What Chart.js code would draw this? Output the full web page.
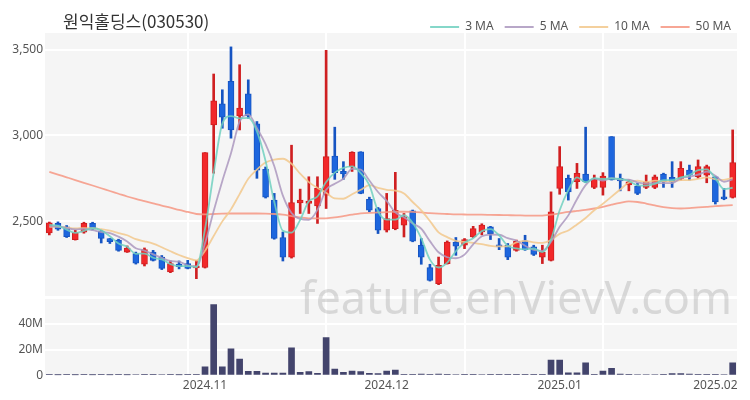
<!DOCTYPE html>
<html><head><meta charset="utf-8">
<script src="https://cdn.jsdelivr.net/npm/chart.js@4/dist/chart.umd.min.js"></script>
<style>
html,body{margin:0;padding:0;background:#fff;width:750px;height:400px;overflow:hidden;}
#title{position:absolute;left:63px;top:11px;font-family:"Noto Sans CJK KR","Noto Sans",sans-serif;font-size:17px;line-height:20px;color:#333;white-space:nowrap;}
#wrapTop{position:absolute;left:0;top:0;width:750px;height:296px;}
#wrapVol{position:absolute;left:0;top:296px;width:750px;height:100px;}
#wm{position:absolute;left:300px;top:274px;font-family:"Noto Sans",sans-serif;font-size:45px;line-height:45px;color:rgba(150,150,150,0.31);white-space:nowrap;pointer-events:none;}
</style></head>
<body>
<div id="wrapTop"><canvas id="price"></canvas></div>
<div id="wrapVol"><canvas id="vol"></canvas></div>
<div id="title">원익홀딩스(030530)</div>
<div id="wm">feature.enVievV.com</div>
<script>
const dates = [
 '2024.10.07','2024.10.08','2024.10.10','2024.10.11','2024.10.14','2024.10.15','2024.10.16','2024.10.17','2024.10.18','2024.10.21',
 '2024.10.22','2024.10.23','2024.10.24','2024.10.25','2024.10.28','2024.10.29','2024.10.30','2024.10.31','2024.11.01','2024.11.04',
 '2024.11.05','2024.11.06','2024.11.07','2024.11.08','2024.11.11','2024.11.12','2024.11.13','2024.11.14','2024.11.15','2024.11.18',
 '2024.11.19','2024.11.20','2024.11.21','2024.11.22','2024.11.25','2024.11.26','2024.11.27','2024.11.28','2024.11.29','2024.12.02',
 '2024.12.03','2024.12.04','2024.12.05','2024.12.06','2024.12.09','2024.12.10','2024.12.11','2024.12.12','2024.12.13','2024.12.16',
 '2024.12.17','2024.12.18','2024.12.19','2024.12.20','2024.12.23','2024.12.24','2024.12.26','2024.12.27','2024.12.30','2025.01.02',
 '2025.01.03','2025.01.06','2025.01.07','2025.01.08','2025.01.09','2025.01.10','2025.01.13','2025.01.14','2025.01.15','2025.01.16',
 '2025.01.17','2025.01.20','2025.01.21','2025.01.22','2025.01.23','2025.01.24','2025.01.31','2025.02.03','2025.02.04','2025.02.05'
];
const opens = [
 2432,2487,2467,2393,2436,2487,2443,2399,2390,2320,
 2311,2249,2320,2291,2204,2250,2253,2227,2230,3061,
 3184,3315,3114,3243,3067,2802,2623,2405,2291,2607,
 2603,2589,2652,2880,2790,2818,2905,2627,2574,2447,
 2457,2477,2560,2360,2229,2136,2253,2379,2360,2408,
 2437,2467,2360,2360,2330,2385,2350,2291,2272,2691,
 2750,2730,2775,2697,2697,2993,2750,2711,2705,2697,
 2697,2775,2755,2750,2798,2759,2769,2759,2642,2639
];
const highs = [
 2495,2496,2475,2447,2494,2494,2447,2399,2395,2356,
 2320,2344,2330,2300,2268,2268,2272,2272,2900,3358,
 3266,3516,3412,3324,3081,2816,2662,2437,2943,2687,
 2759,2759,3496,3048,2847,2905,2905,2640,2580,2662,
 2785,2545,2565,2399,2249,2291,2385,2405,2399,2470,
 2485,2470,2399,2370,2390,2418,2360,2360,2671,2935,
 2769,2837,3048,2769,2783,2993,2775,2740,2720,2769,
 2769,2780,2847,2847,2827,2857,2827,2760,2691,3032
];
const lows = [
 2420,2447,2405,2390,2430,2450,2373,2370,2325,2318,
 2250,2239,2268,2218,2200,2222,2222,2165,2227,2780,
 3042,2984,3032,3100,2750,2635,2395,2268,2285,2545,
 2545,2487,2574,2744,2744,2790,2660,2555,2428,2437,
 2450,2408,2380,2249,2151,2130,2250,2301,2340,2405,
 2420,2393,2334,2276,2325,2330,2300,2253,2268,2657,
 2623,2691,2725,2690,2652,2740,2677,2677,2655,2690,
 2690,2697,2697,2740,2740,2750,2724,2600,2625,2635
];
const closes = [
 2490,2453,2410,2434,2487,2455,2400,2380,2330,2344,
 2256,2334,2272,2225,2253,2235,2225,2240,2900,3202,
 3106,3032,3159,3114,2798,2640,2400,2291,2609,2623,
 2617,2691,2876,2783,2775,2902,2662,2565,2447,2516,
 2564,2525,2383,2291,2155,2243,2379,2354,2393,2457,
 2477,2428,2350,2291,2383,2334,2307,2320,2554,2818,
 2671,2779,2730,2744,2763,2740,2735,2730,2662,2730,
 2759,2730,2730,2808,2769,2818,2818,2613,2630,2842
];
const ma3 = [
 2478,2473,2451,2432,2444,2459,2447,2412,2370,2351,
 2310,2311,2287,2277,2250,2238,2238,2233,2455,2781,
 3069,3113,3099,3102,3024,2851,2613,2444,2433,2508,
 2616,2644,2728,2783,2811,2820,2780,2710,2558,2509,
 2509,2535,2491,2400,2276,2230,2259,2325,2375,2401,
 2442,2454,2418,2356,2341,2336,2341,2320,2394,2564,
 2681,2756,2727,2751,2746,2749,2746,2735,2709,2707,
 2717,2740,2740,2756,2769,2798,2802,2750,2687,2695
];
const ma5 = [
 2470,2469,2460,2452,2455,2448,2437,2431,2410,2382,
 2342,2329,2307,2286,2268,2264,2242,2236,2371,2560,
 2735,2896,3080,3123,3042,2949,2822,2649,2548,2513,
 2508,2566,2683,2718,2748,2805,2800,2737,2670,2618,
 2551,2523,2487,2456,2384,2319,2290,2284,2305,2365,
 2412,2422,2421,2401,2386,2357,2333,2327,2380,2467,
 2534,2628,2710,2748,2737,2751,2742,2742,2726,2719,
 2723,2722,2722,2751,2759,2771,2789,2765,2730,2744
];
const ma10 = [
 2467,2468,2463,2458,2460,2459,2453,2445,2431,2418,
 2395,2383,2369,2348,2325,2303,2285,2271,2328,2414,
 2499,2569,2658,2747,2801,2842,2859,2864,2835,2777,
 2728,2694,2666,2633,2631,2657,2683,2710,2694,2683,
 2678,2662,2612,2563,2501,2435,2407,2386,2380,2374,
 2366,2356,2353,2353,2376,2385,2377,2374,2390,2426,
 2446,2481,2519,2564,2602,2643,2685,2726,2737,2728,
 2737,2732,2732,2739,2739,2747,2755,2744,2741,2752
];
const ma50 = [
 2788,2772,2756,2740,2724,2708,2692,2676,2660,2644,
 2630,2617,2604,2591,2579,2566,2554,2542,2540,2542,
 2544,2545,2545,2545,2545,2544,2542,2538,2530,2522,
 2517,2516,2517,2522,2530,2538,2545,2549,2551,2553,
 2555,2555,2554,2551,2547,2544,2542,2540,2539,2538,
 2538,2537,2536,2535,2534,2533,2532,2533,2538,2546,
 2554,2560,2566,2574,2584,2596,2607,2615,2612,2603,
 2592,2582,2576,2574,2576,2580,2584,2588,2591,2594
];
// volume in millions of shares
const volumes = [
 0.6,0.5,0.6,0.5,0.7,0.5,0.6,0.5,0.7,0.5,
 0.8,0.7,0.6,0.8,0.7,0.5,0.6,0.9,6.8,55.2,
 6.8,20.7,12.7,3.2,3.2,1.9,1.9,1.9,21.5,2.5,
 3.0,1.7,29.5,5.0,2.5,3.5,3.0,1.7,1.5,3.5,
 4.2,1.0,0.9,1.1,1.0,1.2,0.9,0.8,0.7,0.6,
 0.8,0.9,0.7,0.6,0.7,0.6,0.7,0.9,12.0,12.0,
 2.0,2.0,9.9,1.0,3.5,5.5,1.2,1.0,0.8,0.8,
 0.8,1.0,1.5,1.5,1.2,1.0,1.0,0.9,0.8,9.9
];
const priceTicks = [2500, 3000, 3500];
const volumeTicks = [0, 20, 40];
const monthTicks = {'2024.11.01':'2024.11','2024.12.02':'2024.12','2025.01.02':'2025.01','2025.02.03':'2025.02'};
const maNames = ['3 MA','5 MA','10 MA','50 MA'];

const UP='#f2282a', UP_B='#cf1f21', DN='#1d66de', DN_B='#1654c2';
const isUp = i => closes[i] >= opens[i];
const FONT = '"Noto Sans","Noto Sans CJK KR",sans-serif';
const bgPlugin = {id:'plotbg', beforeDraw(c){const a=c.chartArea,x=c.ctx;x.save();x.fillStyle='#f5f5f5';x.fillRect(a.left,a.top,a.right-a.left,a.bottom-a.top);x.restore();}};
const vGrid = ctx => (ctx.index>0 && ctx.index%16===0) ? '#ffffff' : 'rgba(0,0,0,0)';
const noPad = s => { s.paddingTop=0; s.paddingBottom=0; s.paddingLeft=0; s.paddingRight=0; };

function maDs(label, data, color){
  return {type:'line', label, data, borderColor:color, backgroundColor:color, borderWidth:1.8,
    pointRadius:0, pointHoverRadius:0, cubicInterpolationMode:'monotone', order:0};
}

new Chart(document.getElementById('price'), {
  data:{labels:dates, datasets:[
    maDs(maNames[0], ma3, 'rgba(112,208,192,0.85)'),
    maDs(maNames[1], ma5, 'rgba(172,152,190,0.85)'),
    maDs(maNames[2], ma10, 'rgba(242,200,140,0.85)'),
    maDs(maNames[3], ma50, 'rgba(246,150,130,0.85)'),
    {type:'bar', label:'wick', data:highs.map((h,i)=>[lows[i],h]),
      backgroundColor:c=>isUp(c.dataIndex)?UP_B:DN_B, barThickness:2, grouped:false, order:2},
    {type:'bar', label:'body', data:opens.map((o,i)=>[Math.min(o,closes[i]),Math.max(o,closes[i])]),
      backgroundColor:c=>isUp(c.dataIndex)?UP:DN, borderColor:c=>isUp(c.dataIndex)?UP_B:DN_B,
      borderWidth:1, borderSkipped:false, barThickness:6, minBarLength:2, grouped:false, order:1}
  ]},
  options:{
    animation:false, responsive:true, maintainAspectRatio:false,
    layout:{padding:{top:10,right:8,left:0,bottom:0}},
    plugins:{
      tooltip:{enabled:false},
      legend:{display:true, position:'top', align:'end', maxHeight:23,
        labels:{boxWidth:29, boxHeight:2, padding:11, color:'#555', font:{size:12, family:FONT},
          filter:item=>maNames.includes(item.text),
          generateLabels:ch=>Chart.defaults.plugins.legend.labels.generateLabels(ch).map(it=>Object.assign(it,{fillStyle:it.strokeStyle,lineWidth:0}))}}
    },
    scales:{
      x:{type:'category', offset:true, grid:{offset:false, color:vGrid, lineWidth:2, drawTicks:false},
        border:{display:false}, ticks:{display:false, autoSkip:false}, afterFit:s=>{s.height=0; noPad(s);}},
      y:{min:2064, max:3597, afterBuildTicks:s=>{s.ticks=priceTicks.map(v=>({value:v}));},
        ticks:{callback:v=>v.toLocaleString('en-US'), color:'#555', font:{size:12, family:FONT}, padding:2},
        grid:{color:'#ffffff', lineWidth:2, drawTicks:false}, border:{display:false}, afterFit:s=>{s.width=45; noPad(s);}},
      y2:{position:'right', display:true, ticks:{display:false}, grid:{display:false}, border:{display:false}, afterFit:s=>{s.width=5; noPad(s);}}
    }
  },
  plugins:[bgPlugin]
});

new Chart(document.getElementById('vol'), {
  type:'bar',
  data:{labels:dates, datasets:[{label:'거래량', data:volumes, backgroundColor:'#43446c', barThickness:6}]},
  options:{
    animation:false, responsive:true, maintainAspectRatio:false,
    layout:{padding:{top:3,right:13,left:0,bottom:0}},
    plugins:{legend:{display:false}, tooltip:{enabled:false}},
    scales:{
      x:{type:'category', offset:true, grid:{offset:false, color:vGrid, lineWidth:2, drawTicks:false},
        border:{display:false},
        ticks:{autoSkip:false, maxRotation:0, padding:3, color:'#555', font:{size:12, family:FONT},
          callback:(v,i)=>monthTicks[dates[i]]||''},
        afterFit:s=>{s.height=20.5; noPad(s);}},
      y:{min:0, max:59.5, afterBuildTicks:s=>{s.ticks=volumeTicks.map(v=>({value:v}));},
        ticks:{callback:v=>v===0?'0':v+'M', color:'#555', font:{size:12, family:FONT}, padding:2},
        grid:{color:'#ffffff', lineWidth:2, drawTicks:false}, border:{display:false}, afterFit:s=>{s.width=45; noPad(s);}}
    }
  },
  plugins:[bgPlugin]
});
</script>
</body></html>
